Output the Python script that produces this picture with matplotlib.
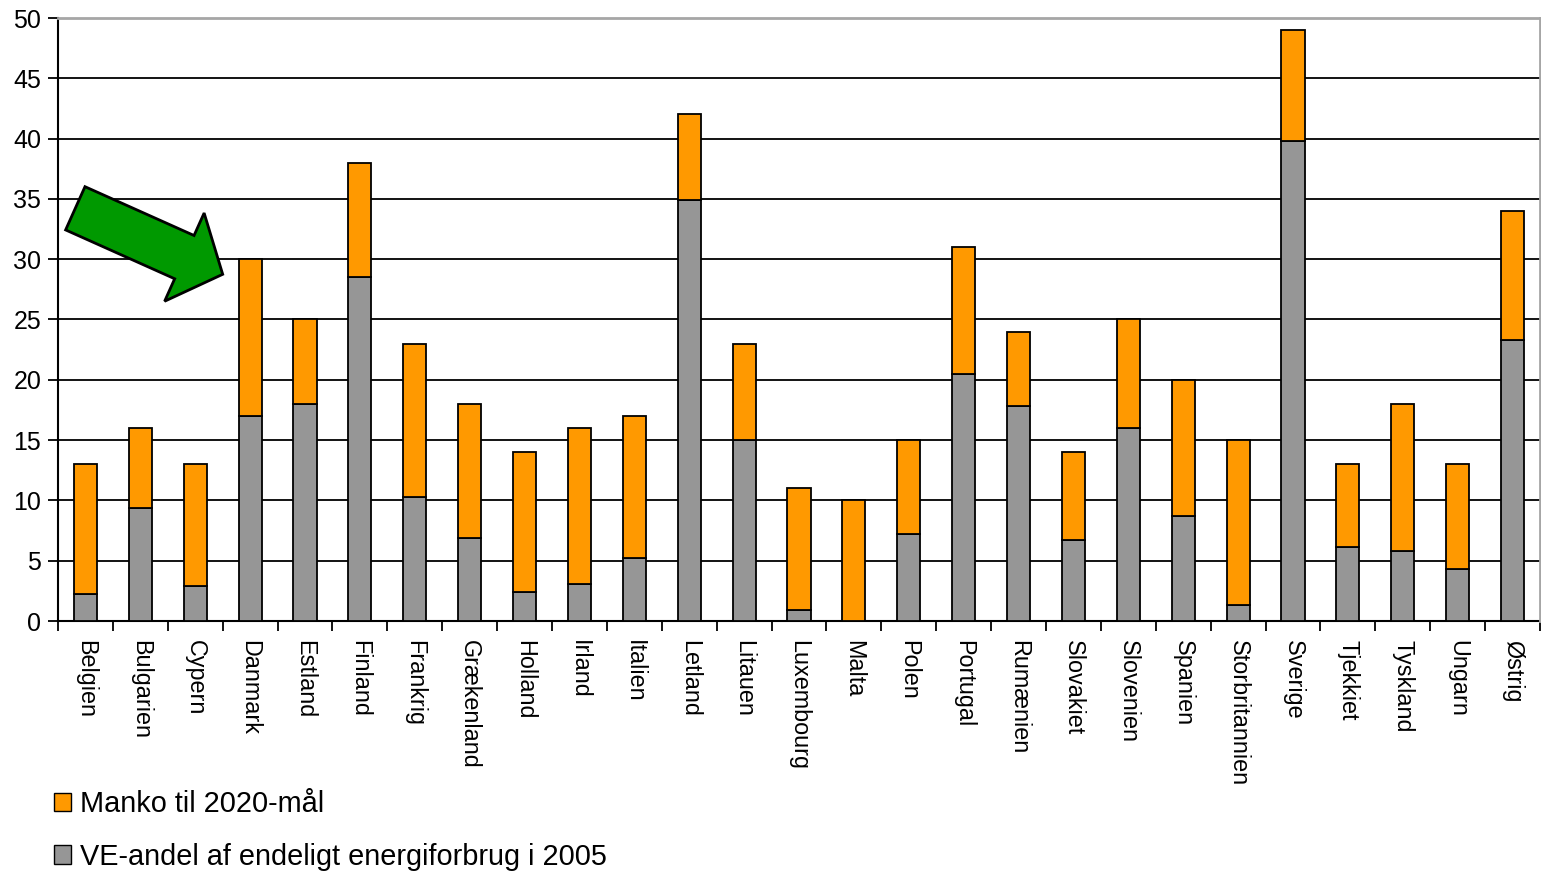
import numpy as np
import matplotlib.pyplot as plt
import matplotlib.patches as mpatches

plt.rcParams['font.family'] = ['Liberation Sans', 'DejaVu Sans']

lande = ['Belgien', 'Bulgarien', 'Cypern', 'Danmark', 'Estland', 'Finland', 'Frankrig',
         'Grækenland', 'Holland', 'Irland', 'Italien', 'Letland', 'Litauen', 'Luxembourg',
         'Malta', 'Polen', 'Portugal', 'Rumænien', 'Slovakiet', 'Slovenien', 'Spanien',
         'Storbritannien', 'Sverige', 'Tjekkiet', 'Tyskland', 'Ungarn', 'Østrig']

# VE-andel 2005 (%)
ve_2005 = [2.2, 9.4, 2.9, 17.0, 18.0, 28.5, 10.3, 6.9, 2.4, 3.1, 5.2, 34.9, 15.0, 0.9,
           0.0, 7.2, 20.5, 17.8, 6.7, 16.0, 8.7, 1.3, 39.8, 6.1, 5.8, 4.3, 23.3]

# 2020-mål (%)
maal_2020 = [13, 16, 13, 30, 25, 38, 23, 18, 14, 16, 17, 42, 23, 11,
             10, 15, 31, 24, 14, 25, 20, 15, 49, 13, 18, 13, 34]

manko = [m - v for m, v in zip(maal_2020, ve_2005)]

ORANGE = '#ff9900'
GRAA = '#969696'

fig = plt.figure(figsize=(15.41, 8.72), dpi=100)
ax = fig.add_axes([58 / 1541, 1 - 621 / 872, 1482 / 1541, 603 / 872])

x = np.arange(len(lande))
w = 0.42
ax.bar(x, ve_2005, w, color=GRAA, edgecolor='black', linewidth=1.3, zorder=3)
ax.bar(x, manko, w, bottom=ve_2005, color=ORANGE, edgecolor='black', linewidth=1.3, zorder=3)

ax.set_xlim(-0.5, len(lande) - 0.5)
ax.set_ylim(0, 50)
ax.set_yticks(np.arange(0, 51, 5))
ax.yaxis.grid(True, color='black', linewidth=1.3, zorder=0)
ax.set_axisbelow(True)

# kategori-ticks mellem søjlerne, labels i midten
ax.set_xticks(np.arange(-0.5, len(lande), 1))
ax.set_xticklabels([])
ax.set_xticks(x, minor=True)
ax.set_xticklabels(lande, minor=True, rotation=270, fontsize=16.8, va='top', ha='center')
ax.tick_params(axis='x', which='major', length=7, width=1.3, direction='out')
ax.tick_params(axis='x', which='minor', length=0, pad=14)
ax.tick_params(axis='y', length=7, width=1.3, direction='out', labelsize=18, pad=5)

for side in ['left', 'bottom']:
    ax.spines[side].set_linewidth(1.5)
    ax.spines[side].set_color('black')
for side in ['top', 'right']:
    ax.spines[side].set_linewidth(2)
    ax.spines[side].set_color('#a6a6a6')
    ax.spines[side].set_zorder(4)

# grøn pil mod Danmark
pil = mpatches.FancyArrow(0.753, 6.637, 1.474, -0.66, width=0.474, head_width=0.967,
                          head_length=0.42, length_includes_head=True,
                          facecolor='#009900', edgecolor='black', linewidth=2,
                          transform=fig.dpi_scale_trans, zorder=10)
fig.patches.append(pil)

handles = [mpatches.Patch(facecolor=ORANGE, edgecolor='black', linewidth=1),
           mpatches.Patch(facecolor=GRAA, edgecolor='black', linewidth=1)]
fig.legend(handles, ['Manko til 2020-mål', 'VE-andel af endeligt energiforbrug i 2005'],
           loc='upper left', bbox_to_anchor=(54 / 1541, 1 - 790 / 872), frameon=False,
           fontsize=20.8, handlelength=0.6, handleheight=0.6, handletextpad=0.3,
           labelspacing=0.85, borderpad=0, borderaxespad=0)

fig.savefig('out.png', dpi=100)
